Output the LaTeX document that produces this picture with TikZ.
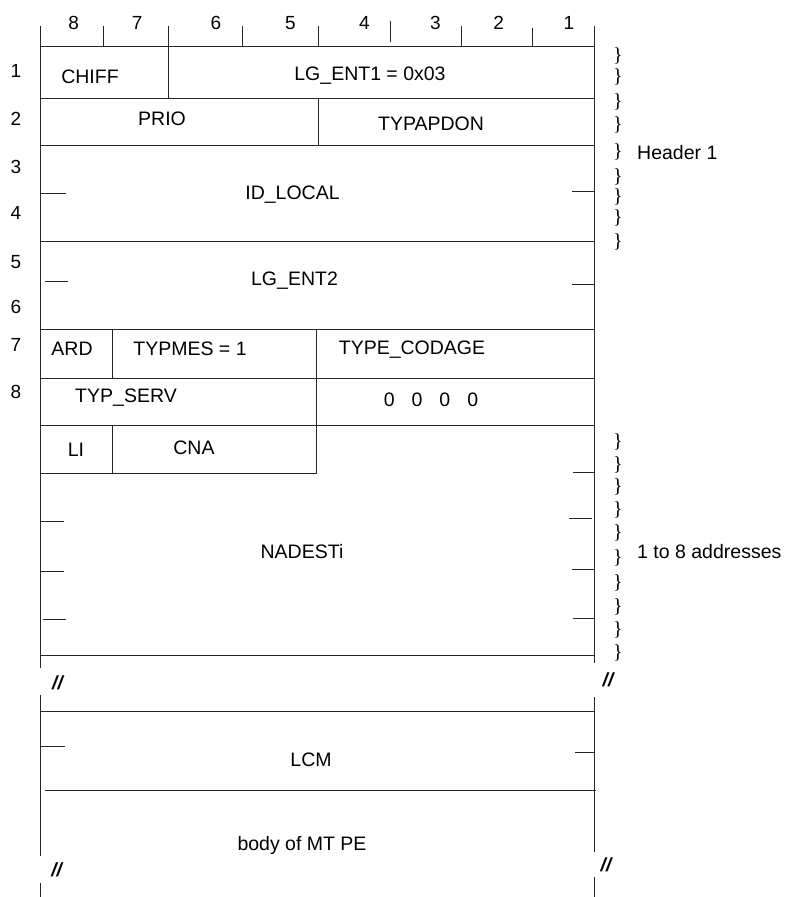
\documentclass[tikz,border=0pt]{standalone}
\usepackage{fontspec}
\setmainfont{Liberation Sans}
\newfontfamily\bracefont{Liberation Serif}
\usetikzlibrary{positioning}

\begin{document}
\begin{tikzpicture}[x=1pt,y=-1pt,
  field/.style={inner sep=0pt,font=\fontsize{19.5}{23}\selectfont},
  num/.style={inner sep=0pt,text height=13.6pt,text depth=0pt,font=\fontsize{19}{22}\selectfont},
  brc/.style={inner sep=0pt,font=\bracefont\fontsize{20}{22}\selectfont},
  cut/.style={inner sep=0pt,font=\bfseries\itshape\fontsize{19}{22}\selectfont},
  rule/.style={line width=0.9pt,black!85}]
\useasboundingbox (0,0) rectangle (786,897);

% bit numbers and ticks
\node[num] (b8) at (73.6,22.5) {8};
\node[num] (b7) at (137.2,22.5) {7};
\node[num] (b6) at (215.9,22.5) {6};
\node[num] (b5) at (290.5,22.5) {5};
\node[num] (b4) at (364.4,22.5) {4};
\node[num] (b3) at (435.4,22.5) {3};
\node[num] (b2) at (498.6,22.5) {2};
\node[num] (b1) at (568.8,22.5) {1};
\foreach \x in {103,168.6,242.5,318.2,461.3}
  \draw[rule] (\x,26) -- (\x,46.7);
\draw[rule] (532,28.3) -- (532,46.7);
\draw[rule] (390.3,20.7) -- (390.3,41.7);

% octet numbers
\node[num] (o1) at (16,70.8) {1};
\node[num] (o2) at (16,119) {2};
\node[num] (o3) at (16,166.7) {3};
\node[num] (o4) at (16,213) {4};
\node[num] (o5) at (16,261.7) {5};
\node[num] (o6) at (16,306.7) {6};
\node[num] (o7) at (16,345) {7};
\node[num] (o8) at (16,391.7) {8};

% frame
\draw[rule] (40,26) -- (40,668) (40,695) -- (40,856) (40,883) -- (40,897);
\draw[rule] (594,26) -- (594,663) (594,697) -- (594,852) (594,877) -- (594,897);
\foreach \y in {46.7,98.7,145,241.5,329.5,378,425,655,711}
  \draw[rule] (40,\y) -- (594,\y);
\draw[rule] (45,790) -- (596,790);
\draw[rule] (40,473) -- (316,473) -- (316,330);
\draw[rule] (168.6,46.7) -- (168.6,98.7);
\draw[rule] (318.3,98.7) -- (318.3,145);
\draw[rule] (112,329.5) -- (112,378) (112,425) -- (112,473);

% continuation ticks
\draw[rule] (40,193.3) -- (66,193.3) (45,281.7) -- (68,281.7);
\draw[rule] (572,191) -- (594,191) (572,284) -- (594,284);
\draw[rule] (40,521.7) -- (64,521.7) (40,571) -- (64,571) (43,619) -- (66,619);
\draw[rule] (573,472) -- (594,472) (569,518) -- (592,518)
  (572,569) -- (594,569) (573,618) -- (594,618);
\draw[rule] (41,746.7) -- (65,746.7) (575,752.7) -- (594,752.7);

% fields
\node[field] (chiff) at (90,76.7) {CHIFF};
\node[field] (lgent1) at (370,76) {LG\_ENT1 = 0x03};
\node[field] (prio) at (162,119) {PRIO};
\node[field] (typapdon) at (431,124) {TYPAPDON};
\node[field] (idlocal) at (292.5,195) {ID\_LOCAL};
\node[field] (lgent2) at (294.5,281) {LG\_ENT2};
\node[field] (ard) at (72,349) {ARD};
\node[field] (typmes) at (190,349) {TYPMES = 1};
\node[field] (typecodage) at (412,350) {TYPE\_CODAGE};
\node[field] (typserv) at (126,398) {TYP\_SERV};
\node[field] (zeros) at (431,400) {0\hspace{17pt}0\hspace{17pt}0\hspace{17pt}0};
\node[field] (li) at (76,450) {LI};
\node[field] (cna) at (194,448) {CNA};
\node[field] (nadesti) at (302,551.7) {NADESTi};
\node[field] (lcm) at (311,760) {LCM};
\node[field] (body) at (302,845) {body of MT PE};

% cuts
\node[cut] (cutl1) at (57.5,683) {//};
\node[cut] (cutr1) at (608,680) {//};
\node[cut] (cutl2) at (56.7,870) {//};
\node[cut] (cutr2) at (606,865) {//};

% braces
\foreach \y [count=\i] in {55.7,76.7,101.7,125,151.7,176.7,196.7,218,242}
  \node[brc] (hb\i) at (618,\y) {\}};
\foreach \y [count=\i] in {441.7,465,486.7,510,533,558,583,607,630,653}
  \node[brc] (ab\i) at (618,\y) {\}};
\node[field,anchor=west] (header) at (637,153) {Header 1};
\node[field,anchor=west] (addr) at (637,551.7) {1 to 8 addresses};
\end{tikzpicture}
\end{document}
